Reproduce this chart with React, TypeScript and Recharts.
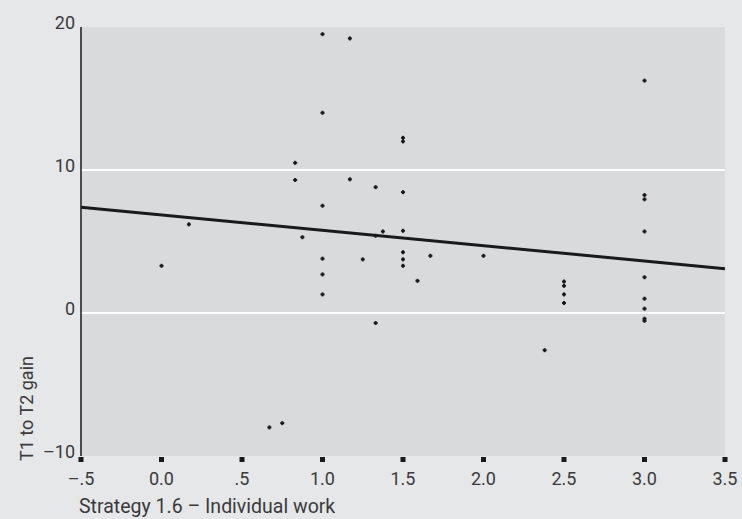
import React from 'react';
import { ComposedChart, Scatter, XAxis, YAxis, CartesianGrid } from 'recharts';

const strategyScores = [
  0.0, 0.17, 0.67, 0.75, 0.83, 0.83, 0.875, 1.0, 1.0, 1.0, 1.0, 1.0, 1.0, 1.17, 1.17,
  1.25, 1.33, 1.33, 1.33, 1.375, 1.5, 1.5, 1.5, 1.5, 1.5, 1.5, 1.5, 1.59, 1.67, 2.0,
  2.38, 2.5, 2.5, 2.5, 2.5, 3.0, 3.0, 3.0, 3.0, 3.0, 3.0, 3.0, 3.0, 3.0,
];
const gains = [
  3.3, 6.2, -8.0, -7.7, 10.5, 9.3, 5.3, 19.5, 14.0, 7.5, 3.8, 2.7, 1.3, 19.2, 9.35,
  3.75, 8.8, 5.4, -0.7, 5.7, 12.25, 12.0, 8.45, 5.75, 4.25, 3.75, 3.3, 2.25, 4.0, 4.0,
  -2.6, 2.2, 1.9, 1.3, 0.7, 16.25, 8.25, 7.95, 5.7, 2.5, 1.0, 0.3, -0.4, -0.55,
];
const trendX = [-0.5, 3.5];
const trendY = [7.4, 3.1];

const xTicks = [-0.5, 0, 0.5, 1, 1.5, 2, 2.5, 3, 3.5];
const xTickLabels = ['–.5', '0.0', '.5', '1.0', '1.5', '2.0', '2.5', '3.0', '3.5'];
const yTicks = [-10, 0, 10, 20];
const yTickLabels = ['–10', '0', '10', '20'];

const points = strategyScores.map((x, i) => ({ x, y: gains[i] }));
const trend = trendX.map((x, i) => ({ x, y: trendY[i] }));

const FONT = 'Roboto, sans-serif';
const TEXT = '#3a3a3a';

const Dot = (props: any) => {
  const { cx, cy } = props;
  if (cx == null || cy == null) return <g />;
  return (
    <g fill="#1a1a1a">
      <rect x={cx - 2} y={cy - 1} width={4} height={2} />
      <rect x={cx - 1} y={cy - 2} width={2} height={4} />
    </g>
  );
};

const XTick = (props: any) => {
  const { x, y, payload } = props;
  const idx = xTicks.indexOf(payload.value);
  return (
    <g>
      <rect x={x - 2.5} y={y + 1} width={5} height={5} fill="#1a1a1a" />
      <text x={x} y={y + 29} textAnchor="middle" fontSize={18} fontFamily={FONT} fill={TEXT}>
        {idx >= 0 ? xTickLabels[idx] : payload.value}
      </text>
    </g>
  );
};

const YTick = (props: any) => {
  const { x, y, payload } = props;
  const idx = yTicks.indexOf(payload.value);
  return (
    <text x={x} y={y + 2} textAnchor="end" fontSize={18} fontFamily={FONT} fill={TEXT}>
      {idx >= 0 ? yTickLabels[idx] : payload.value}
    </text>
  );
};

export default function App() {
  return (
    <div style={{ position: 'absolute', left: 0, top: 0, width: 742, height: 519, background: '#e6e7e9' }}>
      <ComposedChart width={742} height={519} margin={{ top: 27, right: 17, bottom: 0, left: 0 }}>
        <CartesianGrid
          vertical={false}
          horizontalValues={[0, 10]}
          stroke="#ffffff"
          strokeWidth={2}
          fill="#d9dadc"
          fillOpacity={1}
        />
        <XAxis
          type="number"
          dataKey="x"
          domain={[-0.5, 3.5]}
          ticks={xTicks}
          axisLine={false}
          tickLine={false}
          tickSize={0}
          tickMargin={0}
          height={63}
          tick={<XTick />}
          interval={0}
          label={{
            content: () => (
              <text x={79} y={513} fontSize={19.5} fontFamily={FONT} fill={TEXT}>
                Strategy 1.6 – Individual work
              </text>
            ),
          }}
        />
        <YAxis
          type="number"
          dataKey="y"
          domain={[-10, 20]}
          ticks={yTicks}
          width={81}
          axisLine={{ stroke: '#1a1a1a', strokeWidth: 1.5 }}
          tickLine={false}
          tickSize={6}
          tickMargin={0}
          tick={<YTick />}
          interval={0}
          label={{
            content: () => (
              <text
                x={33}
                y={461}
                transform="rotate(-90 33 461)"
                fontSize={18}
                fontFamily={FONT}
                fill={TEXT}
              >
                T1 to T2 gain
              </text>
            ),
          }}
        />
        <Scatter data={points} shape={<Dot />} isAnimationActive={false} />
        <Scatter
          data={trend}
          line={{ stroke: '#1a1a1a', strokeWidth: 3 }}
          shape={() => <g />}
          isAnimationActive={false}
        />
      </ComposedChart>
    </div>
  );
}
